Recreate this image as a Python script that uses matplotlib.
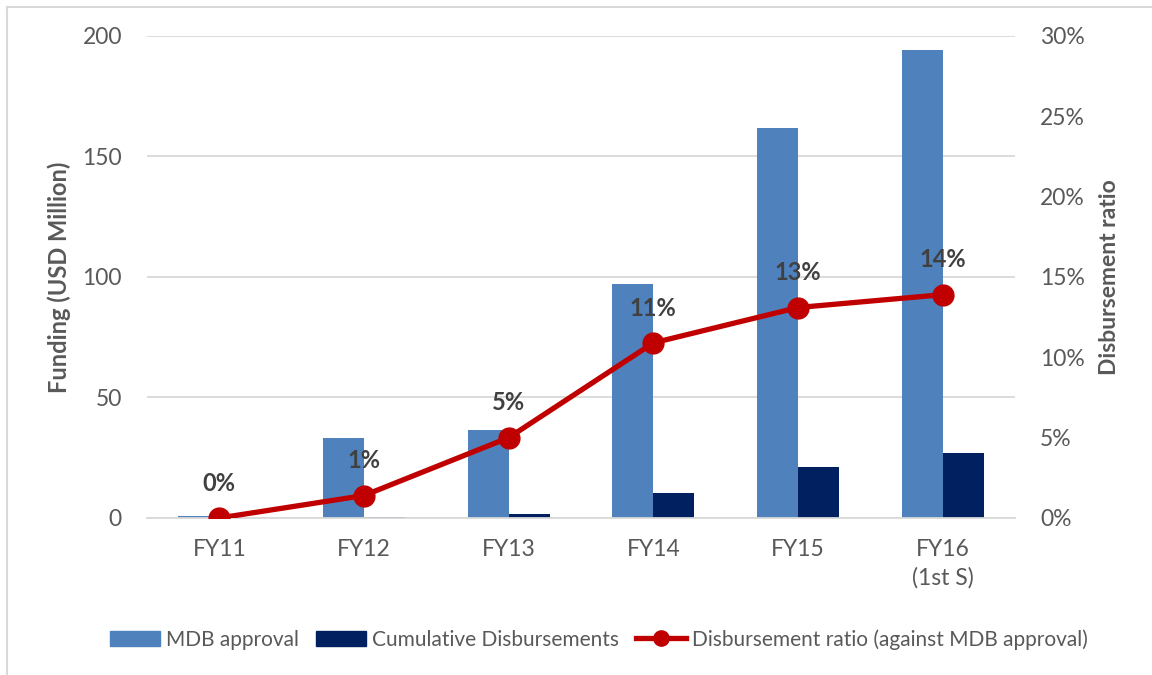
import numpy as np
import matplotlib.pyplot as plt
from matplotlib.lines import Line2D
from matplotlib.patches import Patch

years = ['FY11', 'FY12', 'FY13', 'FY14', 'FY15', 'FY16\n(1st S)']
mdb = [1, 33, 36.5, 97, 162, 194]
cum = [0.1, 0.3, 1.6, 10.5, 21.2, 27]
ratio = [0.0, 1.4, 5.0, 10.9, 13.1, 13.9]
ratio_lbl = ['0%', '1%', '5%', '11%', '13%', '14%']

plt.rcParams['font.family'] = ['Lato', 'DejaVu Sans']
txt = '#595959'

fig = plt.figure(figsize=(11.52, 6.75), dpi=100)
ax = fig.add_axes([0.1276, 0.2326, 0.7535, 0.7141])
x = np.arange(len(years))
w = 0.284
ax.bar(x - w/2, mdb, w, color='#4F81BD', zorder=2)
ax.bar(x + w/2, cum, w, color='#002060', zorder=2)
ax.set_xlim(-0.5, len(years) - 0.5)
ax.set_ylim(0, 200)
ax.set_yticks(np.arange(0, 201, 50))
ax.grid(axis='y', color='#D9D9D9', lw=1.3, zorder=0)
ax.set_xticks(x)
ax.set_xticklabels(years, color=txt, fontsize=16.5, linespacing=1.4, va='top')
ax.tick_params(axis='x', length=0, pad=15)
ax.tick_params(axis='y', length=0, pad=18, labelsize=16.5, labelcolor=txt)
for s in ax.spines.values():
    s.set_visible(False)
ax.spines['bottom'].set_visible(True)
ax.spines['bottom'].set_color('#D9D9D9')
ax.spines['bottom'].set_linewidth(1.3)
ax.set_ylabel('Funding (USD Million)', fontsize=17, fontweight='bold', color=txt, labelpad=8)

ax2 = ax.twinx()
ax2.plot(x, ratio, color='#C00000', lw=3.8, marker='o', ms=15, zorder=3)
ax2.set_ylim(0, 30)
ax2.set_yticks(np.arange(0, 31, 5))
ax2.set_yticklabels([f'{v}%' for v in range(0, 31, 5)])
ax2.tick_params(axis='y', length=0, pad=18, labelsize=16.5, labelcolor=txt)
for s in ax2.spines.values():
    s.set_visible(False)
ax2.set_ylabel('Disbursement ratio', fontsize=16.5, fontweight='bold', color=txt, labelpad=10)
for xi, r, l in zip(x, ratio, ratio_lbl):
    ax2.annotate(l, (xi, r), xytext=(0, 25), textcoords='offset points', ha='center', va='center',
                 fontsize=17, fontweight='bold', color='#404040')

handles = [Patch(color='#4F81BD'), Patch(color='#002060'),
           Line2D([], [], color='#C00000', lw=3.8, marker='o', ms=11)]
labels = ['MDB approval', 'Cumulative Disbursements', 'Disbursement ratio (against MDB approval)']
fig.legend(handles, labels, loc='center', bbox_to_anchor=(0.52, 0.053), ncol=3, frameon=False,
           fontsize=15, labelcolor=txt, handlelength=2.4, handletextpad=0.3, columnspacing=0.8)

fig.add_artist(Line2D([0.006, 0.006], [0, 0.99], color='#D9D9D9', lw=1.5, transform=fig.transFigure))
fig.add_artist(Line2D([0.006, 1], [0.99, 0.99], color='#D9D9D9', lw=1.5, transform=fig.transFigure))

fig.savefig('out.png', dpi=100)
